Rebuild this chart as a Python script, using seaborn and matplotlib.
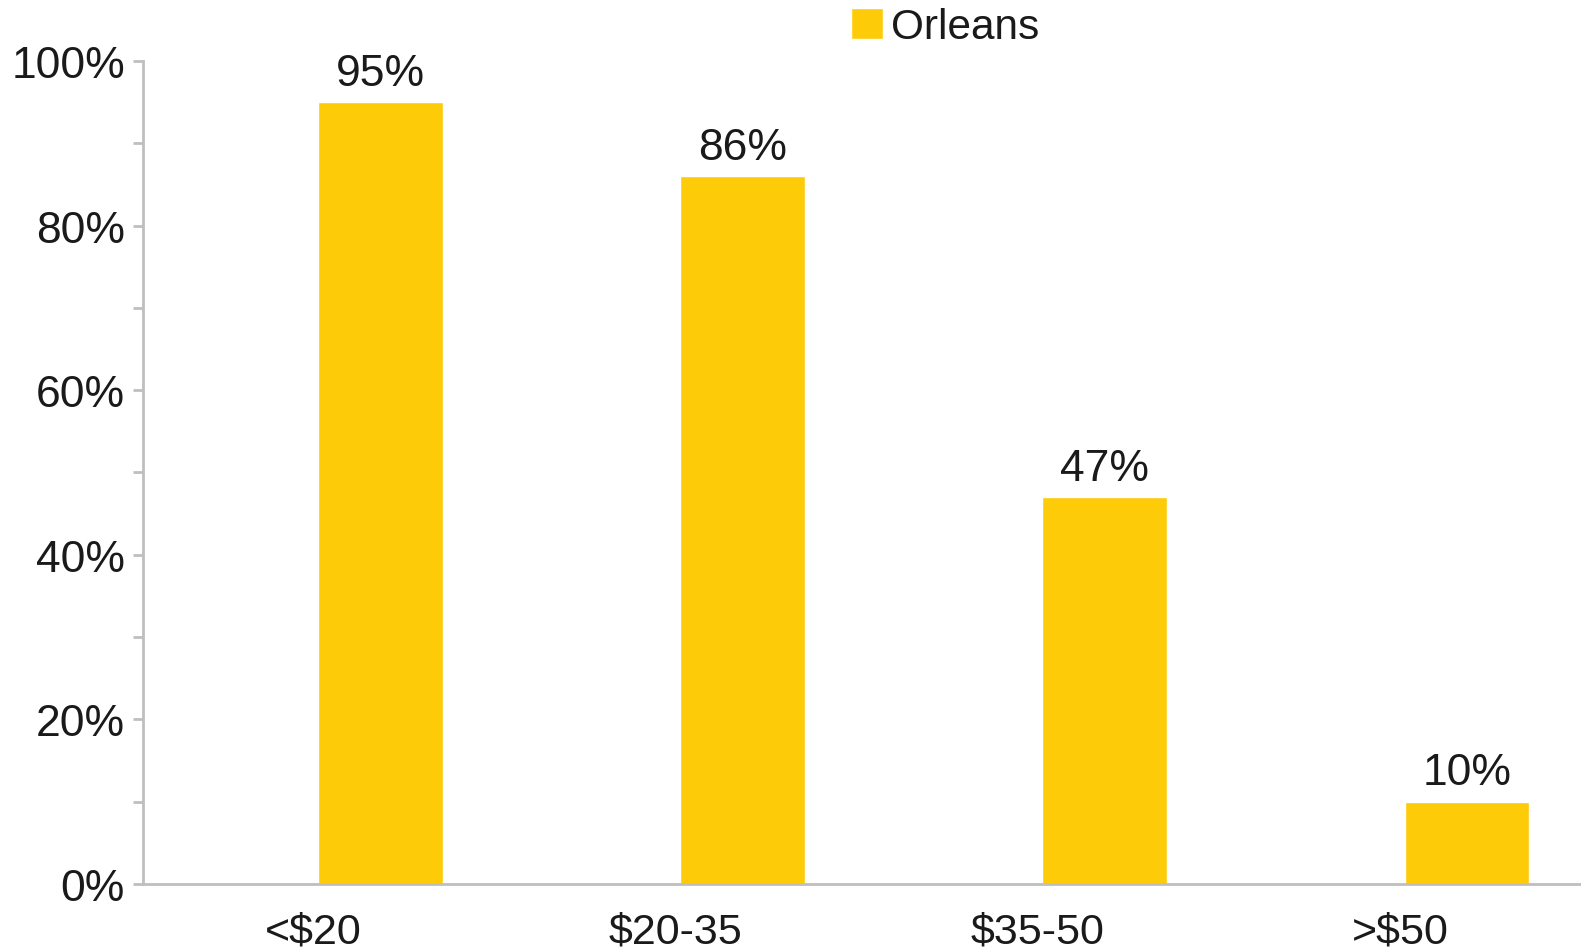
import pandas as pd
import numpy as np
import seaborn as sns
import matplotlib.pyplot as plt
from matplotlib.ticker import MultipleLocator, PercentFormatter
from matplotlib.patches import Patch

# Data
categories = ['<$20', '$20-35', '$35-50', '>$50']
orleans = [95, 86, 47, 10]
# the chart leaves room for a second series that has no values
other = [np.nan, np.nan, np.nan, np.nan]
series_order = ['other', 'Orleans']

bar_color = '#FDCB08'
axis_grey = '#BFBFBF'
text_color = '#1A1A1A'

df = pd.DataFrame({
    'income': categories * 2,
    'share': other + orleans,
    'series': ['other'] * len(categories) + ['Orleans'] * len(categories),
})

sns.set_style('white')
plt.rcParams['font.family'] = ['Liberation Sans', 'DejaVu Sans']
plt.rcParams['text.color'] = text_color

fig = plt.figure(figsize=(15.81, 9.53), dpi=100)
ax = fig.add_axes([0.0905, 0.0714, 0.9095, 0.8635])

sns.barplot(
    data=df, x='income', y='share', hue='series', hue_order=series_order,
    order=categories, palette={'other': bar_color, 'Orleans': bar_color},
    width=0.74, gap=0.07, dodge=True, saturation=1, legend=False, ax=ax,
    errorbar=None,
)

# value labels only for Orleans
for cont in ax.containers:
    heights = [p.get_height() for p in cont]
    if all(np.isnan(h) for h in heights):
        continue
    ax.bar_label(cont, labels=[f'{int(round(h))}%' for h in heights],
                 padding=6, fontsize=32, color=text_color)

ax.set_ylim(0, 100)
ax.set_xlim(-0.47, 3.5)
ax.yaxis.set_major_locator(MultipleLocator(20))
ax.yaxis.set_minor_locator(MultipleLocator(10))
ax.yaxis.set_major_formatter(PercentFormatter(decimals=0))

for side in ['top', 'right']:
    ax.spines[side].set_visible(False)
for side in ['left', 'bottom']:
    ax.spines[side].set_color(axis_grey)
    ax.spines[side].set_linewidth(2)

ax.tick_params(axis='y', which='both', direction='out', length=7, width=2,
               color=axis_grey, left=True, labelsize=32, pad=6, labelcolor=text_color)
ax.tick_params(axis='x', length=0, labelsize=31, pad=20, labelcolor=text_color)
ax.set_xlabel('')
ax.set_ylabel('')

fig.legend(handles=[Patch(facecolor=bar_color, label='Orleans')],
           loc='upper left', bbox_to_anchor=(0.533, 1.0), frameon=False,
           fontsize=30.5, handlelength=0.75, handleheight=0.75,
           handletextpad=0.2, borderpad=0.2, borderaxespad=0)

fig.savefig('out.png', dpi=100)
